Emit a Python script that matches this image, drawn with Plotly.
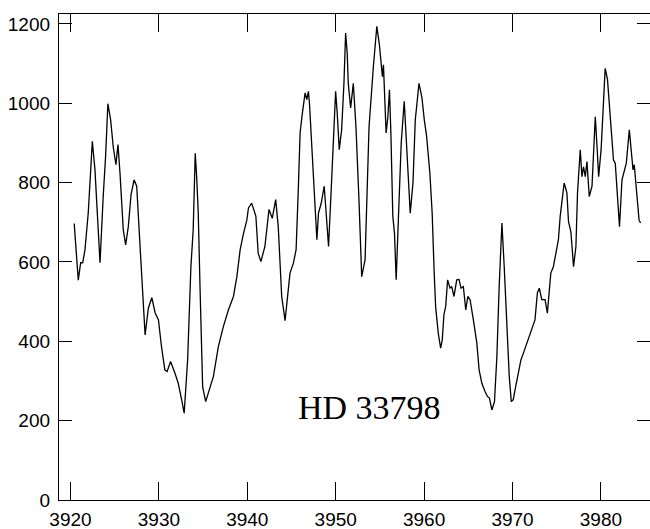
import plotly.graph_objects as go

# Spectrum of HD 33798 around the Ca II H & K lines
wavelength = [
    3920.42, 3920.88, 3921.15, 3921.38, 3921.64, 3922.01, 3922.47, 3922.77, 3922.97, 3923.34,
    3923.70, 3923.97, 3924.23, 3924.54, 3924.83, 3925.14, 3925.37, 3925.60, 3925.97, 3926.24,
    3926.54, 3926.85, 3927.19, 3927.49, 3927.87, 3928.17, 3928.44, 3928.81, 3929.20, 3929.57,
    3929.95,
    3930.29, 3930.67, 3930.93, 3931.32, 3931.81, 3932.18, 3932.57, 3932.86, 3933.25, 3933.62,
    3933.88, 3934.11, 3934.27, 3934.45, 3934.65, 3934.95, 3935.29, 3935.59, 3936.16, 3936.73,
    3937.29, 3937.86, 3938.43, 3938.82, 3939.19, 3939.57, 3939.95, 3940.13,
    3940.48, 3940.66, 3940.97, 3941.23, 3941.54, 3941.99, 3942.45, 3942.82, 3943.21, 3943.50,
    3943.89, 3944.27, 3944.64, 3944.83, 3945.21, 3945.52, 3945.78, 3945.97, 3946.23, 3946.54,
    3946.73, 3946.91, 3947.03, 3947.30, 3947.56, 3947.87, 3948.05, 3948.36, 3948.70, 3948.92,
    3949.19, 3949.49, 3949.75,
    3949.99, 3950.17, 3950.40, 3950.67, 3950.93, 3951.12, 3951.30, 3951.42, 3951.69, 3951.99,
    3952.29, 3952.63, 3952.94, 3953.32, 3953.77, 3954.26, 3954.65, 3954.94, 3955.13, 3955.28,
    3955.40, 3955.59, 3955.70, 3955.90, 3956.08, 3956.24, 3956.46, 3956.65, 3956.84, 3957.10,
    3957.41, 3957.75, 3958.05, 3958.43, 3958.74, 3959.00, 3959.42, 3959.76, 3960.02,
    3960.28, 3960.65, 3960.91, 3961.14, 3961.30, 3961.60, 3961.87, 3962.05, 3962.24, 3962.44,
    3962.66, 3962.93, 3963.12, 3963.38, 3963.69, 3963.95, 3964.18, 3964.44, 3964.71, 3964.94,
    3965.20, 3965.57, 3965.96, 3966.22, 3966.53, 3966.90, 3967.16, 3967.39, 3967.66, 3967.96,
    3968.23, 3968.49, 3968.80, 3969.06, 3969.37, 3969.63, 3969.86,
    3970.08, 3970.35, 3970.65, 3970.95, 3971.29, 3971.67, 3971.98, 3972.24, 3972.54, 3972.81,
    3973.03, 3973.31, 3973.68, 3973.94, 3974.14, 3974.33, 3974.62, 3974.90, 3975.19, 3975.39,
    3975.58, 3975.84, 3976.15, 3976.33, 3976.60, 3976.90, 3977.17, 3977.35, 3977.66, 3977.85,
    3978.03, 3978.23, 3978.42, 3978.68, 3978.99, 3979.17, 3979.36, 3979.56, 3979.74,
    3980.02, 3980.29, 3980.48, 3980.74, 3981.05, 3981.42, 3981.62, 3981.81, 3982.10, 3982.38,
    3982.56, 3982.87, 3983.21, 3983.40, 3983.63, 3983.77, 3984.05, 3984.31, 3984.48,
]

flux = [
    697, 554, 598, 598, 631, 724, 904, 832, 749, 598,
    765, 866, 999, 958, 891, 845, 896, 824, 681, 643,
    689, 770, 807, 791, 639, 523, 416, 484, 510, 472,
    454,
    387, 328, 324, 349, 320, 295, 253, 219, 353, 588,
    681, 874, 815, 724, 538, 285, 248, 269, 311, 387,
    437, 479, 513, 563, 631, 672, 706, 736,
    748, 737, 715, 622, 601, 639, 732, 710, 757, 689,
    513, 452, 522, 572, 597, 631, 791, 925, 975, 1026,
    1009, 1030, 1000, 891, 815, 656, 723, 748, 791, 715,
    639, 782, 908,
    1030, 975, 883, 933, 1050, 1177, 1126, 1050, 988, 1050,
    941, 757, 563, 605, 941, 1092, 1194, 1148, 1092, 1067,
    1097, 1009, 925, 966, 1034, 925, 715, 672, 555, 715,
    900, 1005, 883, 723, 799, 958, 1050, 1013, 958,
    917, 824, 723, 572, 488, 420, 383, 403, 467, 488,
    555, 534, 538, 513, 555, 556, 534, 538, 479, 513,
    505, 454, 396, 328, 294, 273, 261, 257, 227, 248,
    362, 538, 698, 588, 437, 311, 248,
    253, 285, 315, 353, 374, 399, 420, 437, 454, 522,
    534, 505, 505, 471, 522, 572, 588, 622, 656, 715,
    757, 799, 774, 702, 676, 588, 639, 774, 883, 815,
    840, 815, 853, 765, 791, 891, 966, 891, 815,
    883, 1026, 1088, 1060, 958, 857, 849, 791, 689, 807,
    824, 849, 933, 891, 832, 845, 782, 706, 698,
]

x_ticks = [3920, 3930, 3940, 3950, 3960, 3970, 3980]
y_ticks = [0, 200, 400, 600, 800, 1000, 1200]
star_name = "HD 33798"

x_range = [3918.70, 3985.55]
y_range = [0, 1225]

tick_font = dict(family="Liberation Sans Narrow, Liberation Sans, Arial", size=19, color="black")

fig = go.Figure()
fig.add_trace(go.Scatter(
    x=wavelength, y=flux, mode="lines",
    line=dict(color="black", width=1.3),
    showlegend=False, hoverinfo="skip",
))

fig.update_layout(
    width=650, height=529,
    margin=dict(l=59, r=0, t=14, b=29),
    paper_bgcolor="white", plot_bgcolor="white",
    xaxis=dict(
        range=x_range, tickvals=x_ticks, ticktext=[str(v) for v in x_ticks],
        ticks="inside", ticklen=18, tickwidth=1.3, tickcolor="black",
        showline=True, linecolor="black", linewidth=1.3, mirror="ticks",
        showgrid=False, zeroline=False, tickfont=tick_font, ticklabelstandoff=2,
    ),
    yaxis=dict(
        range=y_range, tickvals=y_ticks, ticktext=[str(v) for v in y_ticks],
        ticks="inside", ticklen=13, tickwidth=1.3, tickcolor="black",
        showline=True, linecolor="black", linewidth=1.3, mirror="ticks",
        showgrid=False, zeroline=False, tickfont=tick_font, ticklabelstandoff=4,
    ),
    annotations=[dict(
        x=3953.8, y=232, xref="x", yref="y", text=star_name, showarrow=False,
        xanchor="center", yanchor="middle",
        font=dict(family="Liberation Serif, DejaVu Serif, serif", size=34, color="black"),
    )],
)

fig.write_html("out.html")
